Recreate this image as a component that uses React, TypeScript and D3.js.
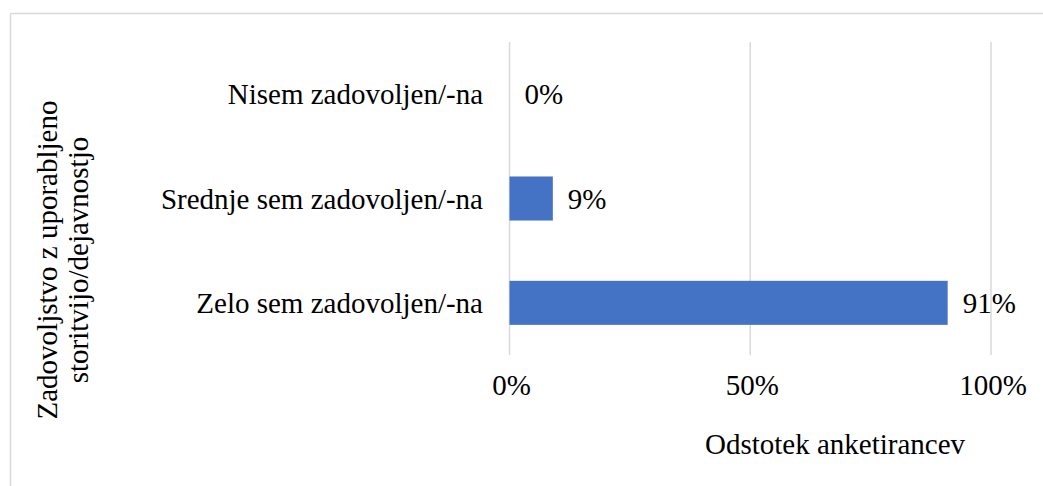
import * as d3 from "d3";

const categories = [
  "Nisem zadovoljen/-na",
  "Srednje sem zadovoljen/-na",
  "Zelo sem zadovoljen/-na",
];
const values = [0, 9, 91];
const ticks = [0, 50, 100];
const yTitleLines = ["Zadovoljstvo z uporabljeno", "storitvijo/dejavnostjo"];
const xTitle = "Odstotek anketirancev";

const W = 1043;
const H = 486;
const font = "Liberation Serif";
const fs = 29;

const App = () => {
  const x = d3.scaleLinear().domain([0, 100]).range([509.5, 991]);
  // gap width ~ 137% like excel
  const y = d3
    .scaleBand<string>()
    .domain(categories)
    .range([42, 355])
    .paddingInner(0.578)
    .paddingOuter(0.289);

  return (
    <svg
      width={W}
      height={H}
      style={{ position: "absolute", left: 0, top: 0, background: "#fff" }}
    >
      <rect x={10.5} y={13.5} width={W + 20} height={H + 20} fill="#fff" stroke="#d9d9d9" strokeWidth={1.5} />

      {ticks.map(t => (
        <line key={t} x1={x(t)} x2={x(t)} y1={42} y2={355} stroke="#d9d9d9" strokeWidth={1.5} />
      ))}

      {categories.map((c, i) => (
        <g key={c}>
          <rect
            x={x(0)}
            y={y(c)!}
            width={x(values[i]) - x(0)}
            height={y.bandwidth()}
            fill="#4472C4"
          />
          <text
            x={483}
            y={y(c)! + y.bandwidth() / 2}
            dy="0.35em"
            textAnchor="end"
            fontFamily={font}
            fontSize={fs}
            fill="#000"
          >
            {c}
          </text>
          <text
            x={x(values[i]) + 15}
            y={y(c)! + y.bandwidth() / 2}
            dy="0.35em"
            fontFamily={font}
            fontSize={fs}
            fill="#000"
          >
            {values[i]}%
          </text>
        </g>
      ))}

      {ticks.map(t => (
        <text key={t} x={x(t) + 2} y={395} textAnchor="middle" fontFamily={font} fontSize={fs} fill="#000">
          {t}%
        </text>
      ))}

      <text x={835} y={454} textAnchor="middle" fontFamily={font} fontSize={fs} fill="#000">
        {xTitle}
      </text>

      <g transform="translate(0,260) rotate(-90)">
        {yTitleLines.map((l, i) => (
          <text key={l} x={0} y={57 + i * 31} textAnchor="middle" fontFamily={font} fontSize={fs} fill="#000">
            {l}
          </text>
        ))}
      </g>
    </svg>
  );
};

export default App;
